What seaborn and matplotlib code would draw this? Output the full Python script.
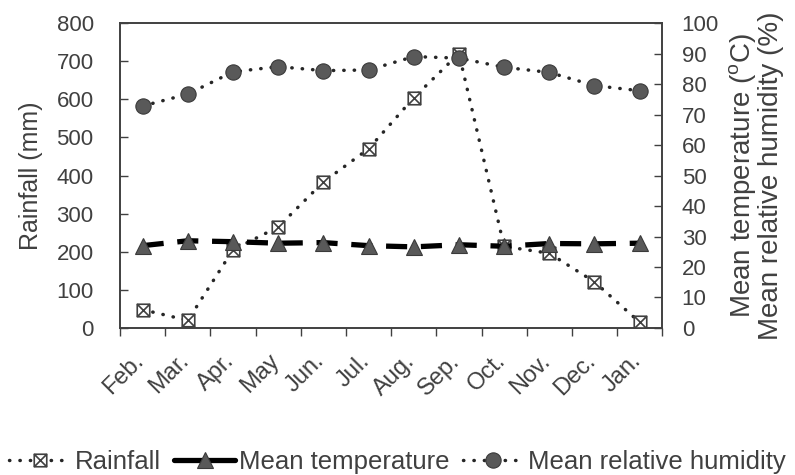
import numpy as np
import pandas as pd
import matplotlib
matplotlib.use("Agg")
import matplotlib.pyplot as plt
import matplotlib.transforms as mtransforms
import seaborn as sns
from matplotlib.path import Path
from matplotlib.lines import Line2D

# data
months = ["Feb.", "Mar.", "Apr.", "May", "Jun.", "Jul.", "Aug.", "Sep.", "Oct.", "Nov.", "Dec.", "Jan."]
rainfall = [48, 20, 205, 265, 383, 470, 604, 720, 214, 196, 121, 15]
temperature = [27.0, 28.6, 28.3, 27.8, 28.0, 27.0, 26.6, 27.3, 26.8, 27.7, 27.6, 27.8]
humidity = [72.8, 76.7, 84.0, 85.7, 84.4, 84.6, 89.0, 88.5, 85.5, 83.8, 79.5, 77.8]

df = pd.DataFrame({"month": months, "rainfall": rainfall,
                   "temperature": temperature, "humidity": humidity})

sns.set_style("white")
plt.rcParams["font.family"] = ["Liberation Sans", "DejaVu Sans"]
txt = "#404040"
plt.rcParams["text.color"] = txt
plt.rcParams["axes.labelcolor"] = txt
plt.rcParams["xtick.color"] = txt
plt.rcParams["ytick.color"] = txt

# square with an x inside (Excel style marker)
boxx = Path([(-1, -1), (1, -1), (1, 1), (-1, 1), (-1, -1),
             (-1, -1), (1, 1), (-1, 1), (1, -1)],
            [Path.MOVETO, Path.LINETO, Path.LINETO, Path.LINETO, Path.CLOSEPOLY,
             Path.MOVETO, Path.LINETO, Path.MOVETO, Path.LINETO])

dotted = (0, (0.1, 2.9))
dashed = (0, (4, 2.6))
mark_col = "#595959"
line_col = "#262626"

fig = plt.figure(figsize=(7.95, 4.75), dpi=100)
ax = fig.add_axes([0.151, 0.3095, 0.682, 0.642])
ax2 = ax.twinx()

sns.lineplot(data=df, x="month", y="rainfall", ax=ax, sort=False, color=line_col,
             lw=2.5, linestyle=dotted, dash_capstyle="round",
             marker=boxx, ms=9, mfc="white", mec="#404040", mew=1.2, zorder=3)
sns.lineplot(data=df, x="month", y="temperature", ax=ax2, sort=False, color="black",
             lw=3.8, linestyle=dashed, dash_capstyle="butt",
             marker="^", ms=11, mfc=mark_col, mec="#3a3a3a", mew=0.8, zorder=3)
sns.lineplot(data=df, x="month", y="humidity", ax=ax2, sort=False, color=line_col,
             lw=2.5, linestyle=dotted, dash_capstyle="round",
             marker="o", ms=11, mfc=mark_col, mec="#3a3a3a", mew=0.8, zorder=3)

ax.set_ylim(0, 800)
ax.set_yticks(np.arange(0, 801, 100))
ax2.set_ylim(0, 100)
ax2.set_yticks(np.arange(0, 101, 10))
ax.set_xlim(-0.5, len(months) - 0.5)

# major ticks between categories, labels on minor ticks at the centres
ax.set_xticks(np.arange(-0.5, len(months), 1))
ax.set_xticklabels([])
ax.set_xticks(np.arange(len(months)), minor=True)
ax.tick_params(axis="x", which="major", direction="out", length=6, width=1, bottom=True)
ax.tick_params(axis="x", which="minor", length=0, pad=12)
ax.tick_params(axis="y", direction="in", length=6, width=1, labelsize=16, left=True, pad=19)
ax2.tick_params(axis="y", direction="in", length=6, width=1, labelsize=16, right=True, pad=14)
ax.set_xticklabels(months, minor=True, rotation=45, ha="right", va="top",
                   rotation_mode="anchor", fontsize=17)
# nudge the rotated month labels left and down a little
shift = mtransforms.ScaledTranslation(-0.10, -0.05, fig.dpi_scale_trans)
for t in ax.xaxis.get_minor_ticks():
    t.label1.set_transform(t.label1.get_transform() + shift)

ax.set_xlabel("")
ax.set_ylabel("Rainfall (mm)", fontsize=18, labelpad=10)
ax2.set_ylabel("Mean temperature ($^{\\mathregular{o}}$C)\nMean relative humidity (%)",
               fontsize=20, labelpad=6, linespacing=0.95)

for a in (ax, ax2):
    for s in a.spines.values():
        s.set_color(txt)
        s.set_linewidth(1.2)

# legend under the plot
h1 = Line2D([], [], color=line_col, lw=2.5, linestyle=dotted, dash_capstyle="round",
            marker=boxx, ms=9, mfc="white", mec="#404040", mew=1.2)
h2 = Line2D([], [], color="black", lw=3.8, linestyle="-",
            marker="^", ms=11, mfc=mark_col, mec="#3a3a3a", mew=0.8)
h3 = Line2D([], [], color=line_col, lw=2.5, linestyle=dotted, dash_capstyle="round",
            marker="o", ms=11, mfc=mark_col, mec="#3a3a3a", mew=0.8)
if ax2.get_legend():
    ax2.get_legend().remove()
fig.legend([h1, h2, h3], ["Rainfall", "Mean temperature", "Mean relative humidity"],
           loc="center", bbox_to_anchor=(0.5, 0.027), ncol=3, frameon=False,
           fontsize=18.5, handlelength=2.4, handletextpad=0.15, columnspacing=0.5)

fig.savefig("out.png", dpi=100)
